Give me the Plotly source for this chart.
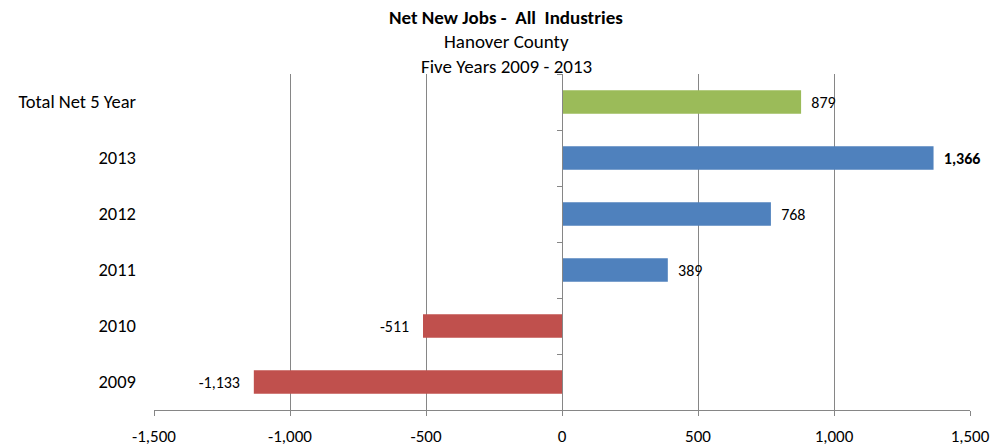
import plotly.graph_objects as go

categories = ["2009", "2010", "2011", "2012", "2013", "Total Net 5 Year"]
values = [-1133, -511, 389, 768, 1366, 879]
labels = ["-1,133", "-511", "389", "768", "<b>1,366</b>", "879"]
colors = ["#C0504D", "#C0504D", "#4F81BD", "#4F81BD", "#4F81BD", "#9BBB59"]
x_tickvals = [-1500, -1000, -500, 0, 500, 1000, 1500]
x_ticktext = ["-1,500", "-1,000", "-500", "0", "500", "1,000", "1,500"]
title_lines = ["<b>Net New Jobs -  All  Industries</b>", "Hanover County", "Five Years 2009 - 2013"]

FONT = "Carlito, Calibri, Lato, sans-serif"
NB = "\u00a0"

# pad labels away from bar ends (outside labels)
shown = [(lab + NB * 3) if v < 0 else (NB + NB + lab) for lab, v in zip(labels, values)]

fig = go.Figure()
fig.add_trace(go.Bar(
    y=categories, x=values, orientation="h",
    marker=dict(color=colors, line=dict(width=0)),
    width=0.42,
    text=shown, textposition="outside", cliponaxis=False,
    textfont=dict(family=FONT, size=16, color="#000000"),
    hoverinfo="skip",
))
# invisible trace to draw the category tick marks at the zero line
fig.add_trace(go.Scatter(y=categories, x=[0]*len(categories), yaxis="y2",
                         mode="markers", marker=dict(opacity=0), hoverinfo="skip",
                         showlegend=False))

H, T, B, L, R = 447, 74, 37, 154, 30
ph = H - T - B
pw = 1000 - L - R
title_y_px = [18, 42, 66]
for line, ypx in zip(title_lines, title_y_px):
    fig.add_annotation(text=line, xref="paper", yref="paper", x=(506 - L) / pw,
                       y=(H - B - ypx) / ph, xanchor="center", yanchor="middle",
                       showarrow=False, font=dict(family=FONT, size=19, color="#000000"))

fig.update_layout(
    width=1000, height=H,
    margin=dict(l=L, r=R, t=T, b=B, autoexpand=False),
    paper_bgcolor="white", plot_bgcolor="white",
    showlegend=False,
    font=dict(family=FONT, size=18, color="#000000"),
    xaxis=dict(
        range=[-1500, 1500], tickvals=x_tickvals, ticktext=x_ticktext,
        showgrid=True, gridcolor="#868686", gridwidth=1,
        zeroline=False, showline=True, linecolor="#868686", linewidth=1,
        ticks="outside", ticklen=5, tickcolor="#868686", ticklabelstandoff=6,
        tickfont=dict(family=FONT, size=17), fixedrange=True, automargin=False,
    ),
    yaxis=dict(
        categoryorder="array", categoryarray=categories,
        showgrid=False, zeroline=False, showline=False, ticks="",
        ticklabelstandoff=17, automargin=False,
        tickfont=dict(family=FONT, size=18.5), fixedrange=True,
    ),
    yaxis2=dict(
        overlaying="y", matches="y", anchor="free", position=0.5,
        categoryorder="array", categoryarray=categories,
        showline=True, linecolor="#868686", linewidth=1,
        ticks="outside", tickson="boundaries", ticklen=5, tickcolor="#868686",
        showticklabels=False, showgrid=False, zeroline=False, fixedrange=True,
        automargin=False,
    ),
)

fig.write_html("out.html")
